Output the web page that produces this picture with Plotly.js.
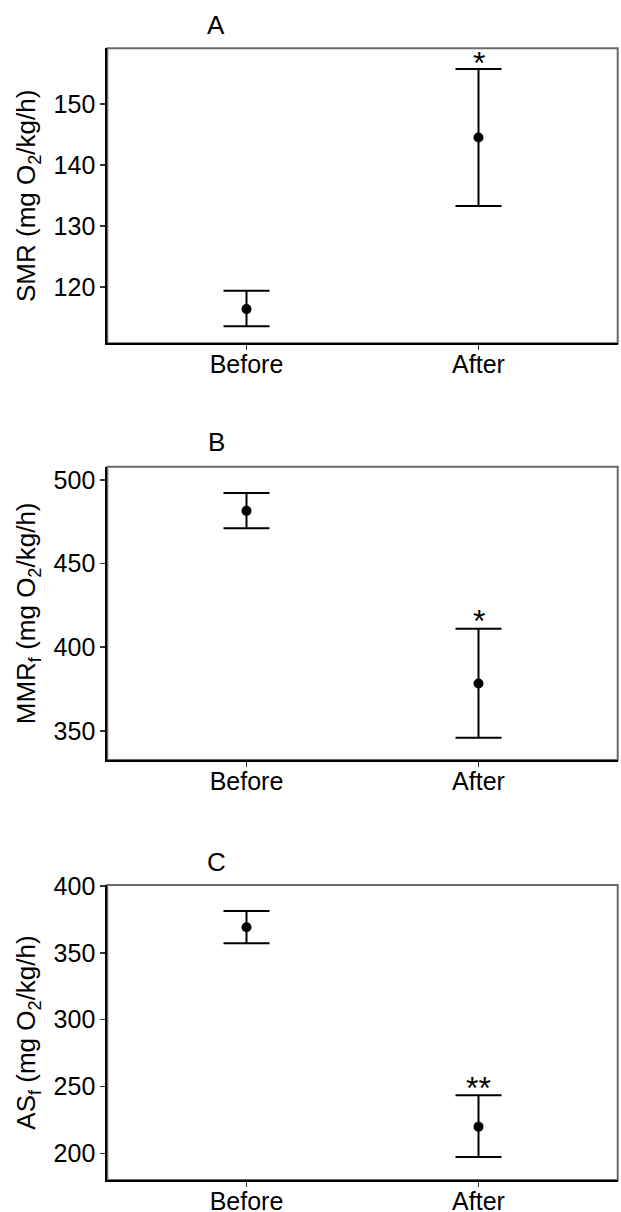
<!DOCTYPE html>
<html>
<head>
<meta charset="utf-8">
<script src="https://cdn.plot.ly/plotly-3.0.1.min.js"></script>
<style>html,body{margin:0;padding:0;background:#fff;}#chart{width:621px;height:1212px;}</style>
</head>
<body>
<div id="chart"></div>
<script>
// ---- data ----
const categories = ['Before', 'After'];

const smrMean  = [116.4, 144.5];
const smrUpper = [119.4, 155.7];
const smrLower = [113.6, 133.3];
const smrStars = ['', '*'];
const smrStarY = [null, 157.3];

const mmrMean  = [481.5, 378.3];
const mmrUpper = [492.2, 411.1];
const mmrLower = [471.1, 345.9];
const mmrStars = ['', '*'];
const mmrStarY = [null, 418.3];

const asMean  = [369.1, 220.0];
const asUpper = [381.3, 243.4];
const asLower = [357.1, 197.3];
const asStars = ['', '**'];
const asStarY = [null, 251.7];

const panelLetters = ['A', 'B', 'C'];
const yTitles = [
  'SMR (mg O<sub>2</sub>/kg/h)',
  'MMR<sub>f</sub> (mg O<sub>2</sub>/kg/h)',
  'AS<sub>f</sub> (mg O<sub>2</sub>/kg/h)'
];
const yTicks = [[120, 130, 140, 150], [350, 400, 450, 500], [200, 250, 300, 350, 400]];
const yRanges = [[110.8, 159.1], [332.6, 507.9], [180.1, 400.7]];

// ---- styling / layout ----
const FONT = 'Liberation Sans, Arial, sans-serif';
const W = 621, H = 1212;
const xDom = [107.3 / W, 617.7 / W];
const panelsPx = [[48.3, 343.3], [466.7, 760], [885, 1180]];
const titleYpx = [25, 441.7, 861.7];

const series = [
  {mean: smrMean, up: smrUpper, lo: smrLower, stars: smrStars, starY: smrStarY},
  {mean: mmrMean, up: mmrUpper, lo: mmrLower, stars: mmrStars, starY: mmrStarY},
  {mean: asMean,  up: asUpper,  lo: asLower,  stars: asStars,  starY: asStarY}
];

const traces = [];
const layout = {
  width: W, height: H,
  margin: {l: 0, r: 0, t: 0, b: 0},
  paper_bgcolor: '#fff', plot_bgcolor: '#fff',
  showlegend: false,
  font: {family: FONT, color: '#000', size: 25},
  annotations: [], shapes: []
};

series.forEach((s, i) => {
  const n = i === 0 ? '' : String(i + 1);
  traces.push({
    type: 'scatter', mode: 'markers',
    x: categories, y: s.mean,
    xaxis: 'x' + n, yaxis: 'y' + n,
    marker: {color: '#000', size: 10},
    error_y: {
      type: 'data', symmetric: false,
      array: s.up.map((u, k) => u - s.mean[k]),
      arrayminus: s.mean.map((m, k) => m - s.lo[k]),
      color: '#000', thickness: 2, width: 23
    },
    hoverinfo: 'skip'
  });
  const dom = [1 - panelsPx[i][1] / H, 1 - panelsPx[i][0] / H];
  layout['xaxis' + n] = {
    domain: xDom, anchor: 'y' + n,
    type: 'category', range: [-0.6, 1.6],
    showline: true, linecolor: '#000', linewidth: 2,
    ticks: 'outside', ticklen: 5, tickwidth: 1.5, tickcolor: '#333',
    ticklabelstandoff: -7,
    showgrid: false, zeroline: false,
    tickfont: {family: FONT, size: 25, color: '#000'},
    fixedrange: true
  };
  layout['yaxis' + n] = {
    domain: dom, anchor: 'x' + n,
    range: yRanges[i], tickvals: yTicks[i],
    showline: true, linecolor: '#000', linewidth: 2,
    ticks: 'outside', ticklen: 5, tickwidth: 1.5, tickcolor: '#333',
    showgrid: false, zeroline: false,
    tickfont: {family: FONT, size: 25, color: '#000'},
    title: {text: yTitles[i], font: {family: FONT, size: 26, color: '#000'}, standoff: 10},
    automargin: false,
    fixedrange: true
  };
  // panel border (top/right in grey)
  layout.shapes.push({
    type: 'rect', xref: 'x' + n + ' domain', yref: 'y' + n + ' domain',
    x0: 0, x1: 1, y0: 0, y1: 1,
    line: {color: '#6a6a6a', width: 2}, layer: 'below'
  });
  // panel letter
  layout.annotations.push({
    xref: 'paper', yref: 'paper', x: 216 / W, y: 1 - titleYpx[i] / H,
    text: panelLetters[i], showarrow: false,
    xanchor: 'center', yanchor: 'middle',
    font: {family: FONT, size: 26, color: '#000'}
  });
  // significance stars
  s.stars.forEach((st, k) => {
    if (!st) return;
    layout.annotations.push({
      xref: 'x' + n, yref: 'y' + n, x: categories[k], y: s.starY[k],
      text: st, showarrow: false, xanchor: 'center', yanchor: 'middle',
      yshift: -4,
      font: {family: FONT, size: 32, color: '#000'}
    });
  });
});

Plotly.newPlot('chart', traces, layout, {displayModeBar: false, staticPlot: true});
</script>
</body>
</html>
